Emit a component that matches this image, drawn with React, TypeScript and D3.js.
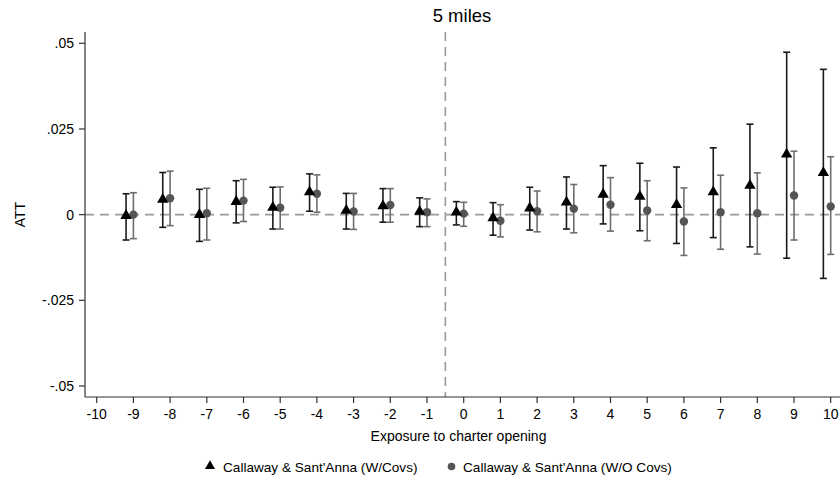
import React from "react";
import * as d3 from "d3";

// Event-time periods relative to charter opening
const periods = [-9, -8, -7, -6, -5, -4, -3, -2, -1, 0, 1, 2, 3, 4, 5, 6, 7, 8, 9, 10];

// Callaway & Sant'Anna estimates with covariates
const attWithCovs = [-0.0003, 0.0044, 0.0, 0.0038, 0.0021, 0.0066, 0.0012, 0.0025, 0.0009, 0.0007, -0.001, 0.0019, 0.0036, 0.0059, 0.0053, 0.0029, 0.0066, 0.0085, 0.0176, 0.0122];
const loWithCovs = [-0.0074, -0.0037, -0.0078, -0.0024, -0.0042, 0.001, -0.0042, -0.0022, -0.0035, -0.003, -0.006, -0.0045, -0.0042, -0.0027, -0.0047, -0.0084, -0.0067, -0.0094, -0.0127, -0.0186];
const hiWithCovs = [0.0061, 0.0123, 0.0074, 0.0099, 0.008, 0.0119, 0.0062, 0.0076, 0.0049, 0.0038, 0.0035, 0.008, 0.011, 0.0143, 0.015, 0.0139, 0.0195, 0.0264, 0.0474, 0.0424];

// Callaway & Sant'Anna estimates without covariates
const attNoCovs = [0.0, 0.0048, 0.0004, 0.0041, 0.002, 0.0061, 0.0009, 0.0028, 0.0007, 0.0003, -0.0018, 0.001, 0.0017, 0.0029, 0.0012, -0.002, 0.0007, 0.0004, 0.0056, 0.0024];
const loNoCovs = [-0.007, -0.0032, -0.0074, -0.002, -0.0042, 0.0007, -0.0043, -0.0022, -0.0035, -0.0034, -0.0065, -0.005, -0.0053, -0.0048, -0.0076, -0.0119, -0.0101, -0.0115, -0.0074, -0.0116];
const hiNoCovs = [0.0064, 0.0127, 0.0077, 0.0103, 0.0081, 0.0116, 0.0062, 0.0076, 0.0046, 0.0036, 0.0029, 0.0069, 0.0088, 0.0108, 0.0099, 0.0078, 0.0115, 0.0122, 0.0185, 0.0169];

const xTicks = d3.range(-10, 11);
const yTicks = [0.05, 0.025, 0, -0.025, -0.05];
const yTickLabels = [".05", ".025", "0", "-.025", "-.05"];

const W = 840;
const H = 485;
const FONT = "'Liberation Sans', Arial, Helvetica, sans-serif";

export default function App() {
  const x = d3.scaleLinear().domain([-10, 10]).range([96.7, 830.7]);
  const y = d3.scaleLinear().domain([-0.05, 0.05]).range([386, 43.3]);
  const axisLeft = 85;
  const axisBottom = 397;
  const plotTop = 32;
  const offset = -0.2; // horizontal dodge for the covariate-adjusted series
  const cap = 3.5;

  const tri = d3.symbol().type(d3.symbolTriangle).size(56)();
  const triLegend = d3.symbol().type(d3.symbolTriangle).size(44)();

  return (
    <svg
      width={W}
      height={H}
      style={{ position: "absolute", left: 0, top: 0, background: "#fff" }}
      fontFamily={FONT}
    >
      <rect x={0} y={0} width={W} height={H} fill="#fff" />

      {/* title */}
      <text x={462} y={22} textAnchor="middle" fontSize={18.5} fill="#000">
        5 miles
      </text>

      {/* reference lines */}
      <line x1={axisLeft} x2={W} y1={y(0)} y2={y(0)} stroke="#999" strokeWidth={1.6} strokeDasharray="9,6" />
      <line x1={x(-0.5)} x2={x(-0.5)} y1={plotTop} y2={axisBottom} stroke="#999" strokeWidth={1.6} strokeDasharray="9,6" />

      {/* y axis */}
      <line x1={axisLeft} x2={axisLeft} y1={plotTop} y2={axisBottom} stroke="#333" strokeWidth={1.2} />
      {yTicks.map((t, i) => (
        <g key={`yt${i}`}>
          <line x1={axisLeft - 6} x2={axisLeft} y1={y(t)} y2={y(t)} stroke="#333" strokeWidth={1.2} />
          <text x={axisLeft - 11} y={y(t) + 5} textAnchor="end" fontSize={14} fill="#000">
            {yTickLabels[i]}
          </text>
        </g>
      ))}
      <text
        transform={`translate(25,${y(0)}) rotate(-90)`}
        textAnchor="middle"
        fontSize={14}
        fill="#000"
      >
        ATT
      </text>

      {/* x axis */}
      <line x1={axisLeft} x2={W} y1={axisBottom} y2={axisBottom} stroke="#333" strokeWidth={1.2} />
      {xTicks.map((t) => (
        <g key={`xt${t}`}>
          <line x1={x(t)} x2={x(t)} y1={axisBottom} y2={axisBottom + 6} stroke="#333" strokeWidth={1.2} />
          <text x={x(t)} y={418.5} textAnchor="middle" fontSize={14} fill="#000">
            {t}
          </text>
        </g>
      ))}
      <text x={458.5} y={441} textAnchor="middle" fontSize={14} fill="#000">
        Exposure to charter opening
      </text>

      {/* series without covariates */}
      {periods.map((p, i) => {
        const cx = x(p);
        return (
          <g key={`nc${p}`} stroke="#6e6e6e" strokeWidth={1.6}>
            <line x1={cx} x2={cx} y1={y(loNoCovs[i])} y2={y(hiNoCovs[i])} />
            <line x1={cx - cap} x2={cx + cap} y1={y(loNoCovs[i])} y2={y(loNoCovs[i])} />
            <line x1={cx - cap} x2={cx + cap} y1={y(hiNoCovs[i])} y2={y(hiNoCovs[i])} />
            <circle cx={cx} cy={y(attNoCovs[i])} r={4.2} fill="#555" stroke="none" />
          </g>
        );
      })}

      {/* series with covariates */}
      {periods.map((p, i) => {
        const cx = x(p + offset);
        return (
          <g key={`wc${p}`} stroke="#1a1a1a" strokeWidth={1.6}>
            <line x1={cx} x2={cx} y1={y(loWithCovs[i])} y2={y(hiWithCovs[i])} />
            <line x1={cx - cap} x2={cx + cap} y1={y(loWithCovs[i])} y2={y(loWithCovs[i])} />
            <line x1={cx - cap} x2={cx + cap} y1={y(hiWithCovs[i])} y2={y(hiWithCovs[i])} />
            <path d={tri ?? ""} transform={`translate(${cx},${y(attWithCovs[i])})`} fill="#000" stroke="none" />
          </g>
        );
      })}

      {/* legend */}
      <path d={triLegend ?? ""} transform="translate(210,466)" fill="#000" />
      <text x={223} y={471.5} fontSize={13.6} fill="#000">
        Callaway &amp; Sant'Anna (W/Covs)
      </text>
      <circle cx={451.5} cy={466.5} r={3.8} fill="#555" />
      <text x={463} y={471.5} fontSize={13.6} fill="#000">
        Callaway &amp; Sant'Anna (W/O Covs)
      </text>
    </svg>
  );
}
